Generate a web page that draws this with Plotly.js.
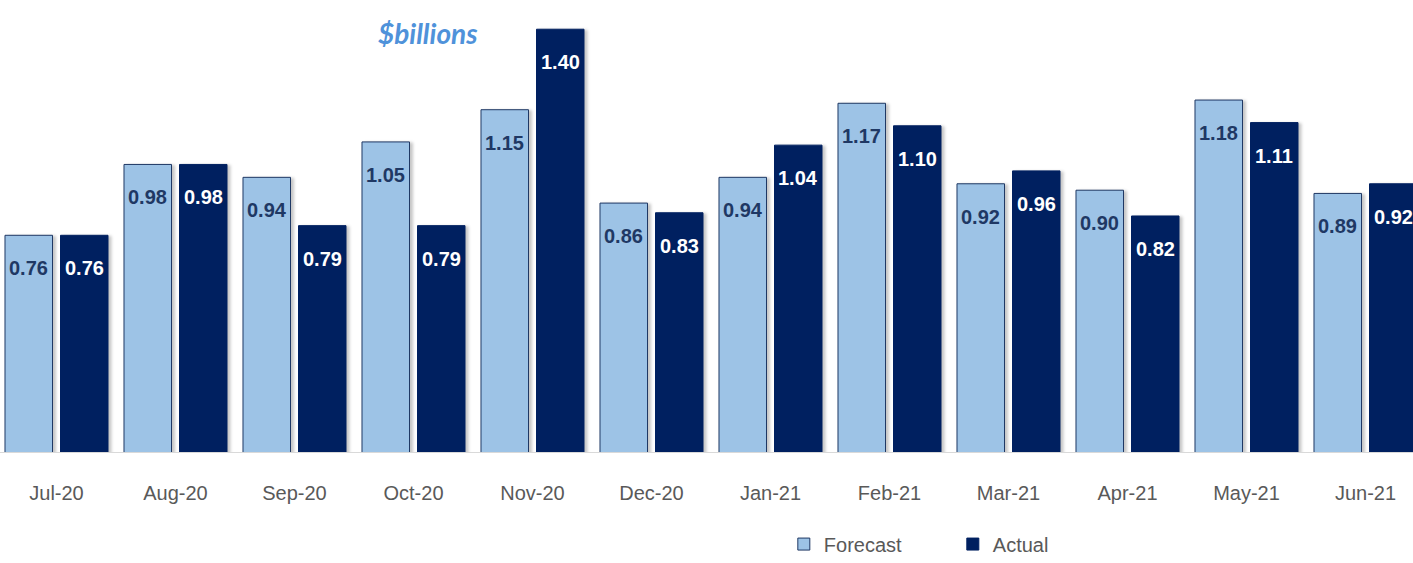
<!DOCTYPE html>
<html><head><meta charset="utf-8">
<script src="https://cdn.plot.ly/plotly-3.0.1.min.js"></script>
<style>html,body{margin:0;padding:0;overflow:hidden;width:1413px;height:563px;background:#fff}#chart{position:absolute;left:-3px;top:0;width:1428px;height:563px}
#chart .bars .point path{filter:drop-shadow(3px 1px 1.5px rgba(0,0,0,0.22));}</style>
</head><body><div id="chart"></div>
<script>
const months = ["Jul-20","Aug-20","Sep-20","Oct-20","Nov-20","Dec-20","Jan-21","Feb-21","Mar-21","Apr-21","May-21","Jun-21"];
const forecast = [0.76,0.98,0.94,1.05,1.15,0.86,0.94,1.17,0.92,0.90,1.18,0.89];
const actual = [0.76,0.98,0.79,0.79,1.40,0.83,1.04,1.10,0.96,0.82,1.11,0.92];

const labelFont = "Liberation Sans, Arial, sans-serif";
const traces = [
  {type:'bar', name:'Forecast', x:months, y:forecast, marker:{color:'#9DC3E6', line:{color:'#1F3864', width:1}}, hoverinfo:'skip'},
  {type:'bar', name:'Actual', x:months, y:actual, marker:{color:'#002060', line:{color:'#002060', width:1}}, hoverinfo:'skip'}
];
const ann = [];
months.forEach((m,i)=>{
  ann.push({x:m, y:forecast[i], xref:'x', yref:'y', text:'<b>'+forecast[i].toFixed(2)+'</b>', showarrow:false, xshift:-27.75, yshift:-33, yanchor:'middle', font:{family:labelFont, size:20, color:'#1F3864'}});
  ann.push({x:m, y:actual[i], xref:'x', yref:'y', text:'<b>'+actual[i].toFixed(2)+'</b>', showarrow:false, xshift:27.75, yshift:-33, yanchor:'middle', font:{family:labelFont, size:20, color:'#FFFFFF'}});
});
ann.push({xref:'paper', yref:'paper', x:0.302, y:0.97, text:'<b><i>$billions</i></b>', showarrow:false, xanchor:'center', yanchor:'middle', font:{family:'Lato, Open Sans, sans-serif', size:28, color:'#4F92DA'}});

const layout = {
  width:1428, height:563,
  margin:{l:0, r:0, t:20, b:111, autoexpand:false},
  paper_bgcolor:'#ffffff', plot_bgcolor:'#ffffff',
  barmode:'group', bargap:0.0672, bargroupgap:0.144,
  showlegend:true,
  legend:{orientation:'h', x:0.551, xanchor:'left', y:-0.168, yanchor:'top', entrywidth:124, entrywidthmode:'pixels', font:{family:labelFont, size:20, color:'#595959'}, traceorder:'normal'},
  xaxis:{type:'category', showgrid:false, zeroline:false, showline:true, linecolor:'#D9D9D9', linewidth:1, ticks:'outside', ticklen:23, tickcolor:'rgba(0,0,0,0)', tickfont:{family:labelFont, size:20, color:'#595959'}, automargin:false},
  yaxis:{range:[0.087,1.4286], visible:false, showgrid:false, zeroline:false},
  annotations:ann
};
Plotly.newPlot('chart', traces, layout, {displayModeBar:false, staticPlot:true});
</script></body></html>
